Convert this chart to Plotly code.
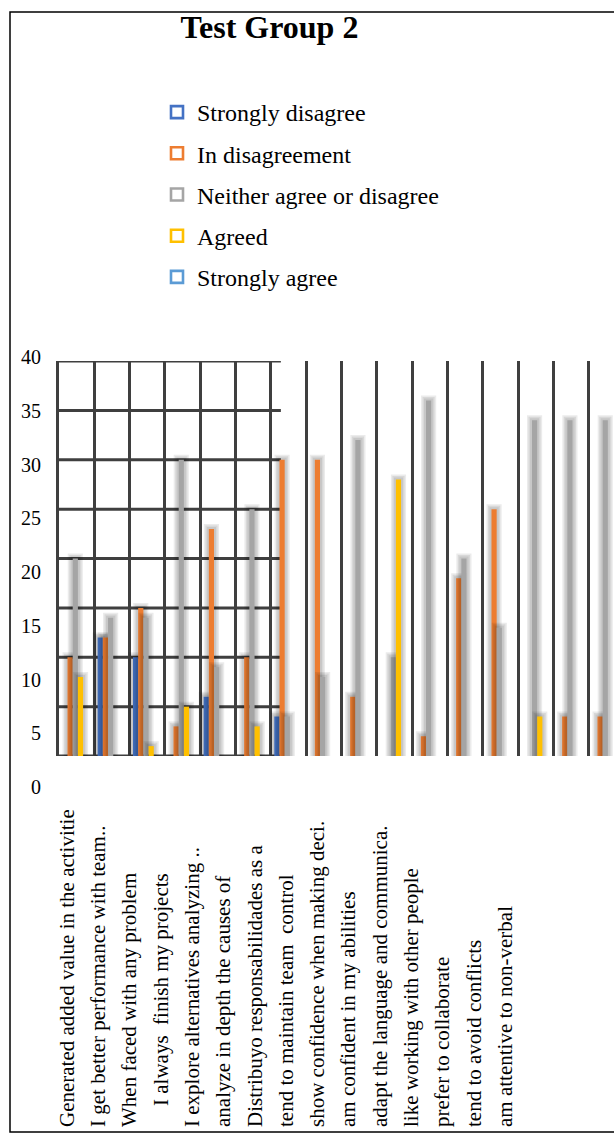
import plotly.graph_objects as go

# Survey statements (axis labels)
statements = [
    "Generated added value in the activitie",
    "I get better performance with team..",
    "When faced with any problem",
    "\u00a0\u00a0\u00a0\u00a0I always  finish my projects",
    "I explore alternatives analyzing ..",
    "analyze in depth the causes of",
    "Distribuyo responsabilidades as a",
    "tend to maintain team  control",
    "show confidence when making deci.",
    "am confident in my abilities",
    "adapt the language and communica.",
    "like working with other people",
    "prefer to collaborate",
    "tend to avoid conflicts",
    "am attentive to non-verbal",
]

# Response counts per item group (16 groups drawn)
group_index = list(range(16))
strongly_disagree = [0, 12, 10, 0, 6, 0, 4, 0, 0, 0, 0, 0, 0, 0, 0, 0]
in_disagreement = [10, 12, 15, 3, 23, 10, 30, 30, 6, 0, 2, 18, 25, 0, 4, 4]
neither = [20, 14, 14, 30, 9, 25, 4, 8, 32, 10, 36, 20, 13, 34, 34, 34]
agreed = [8, 0, 1, 5, 0, 3, 0, 0, 0, 28, 0, 0, 0, 4, 0, 0]
strongly_agree = [0, 0, 0, 0, 0, 0, 0, 0, 0, 0, 0, 0, 0, 0, 0, 0]

series_names = ["Strongly disagree", "In disagreement", "Neither agree or disagree",
                "Agreed", "Strongly agree"]
series_values = [strongly_disagree, in_disagreement, neither, agreed, strongly_agree]
series_colors = ["#4472C4", "#ED7D31", "#A5A5A5", "#FFC000", "#5B9BD5"]

y_ticks = list(range(0, 41, 5))

W, H = 614, 1137
FONT = "Liberation Serif"

# pixel geometry of the bar panel
PX_LEFT, PX_TOP, PX_BOTTOM = 59, 361, 756
CELL_PX = 35.33
UNIT_PX = (PX_BOTTOM - PX_TOP) / 40.0

BAR_W = 0.147
BAR_START = -0.406

fig = go.Figure()

# soft drop-shadow layers drawn under each bar
shadow_pads = [5.0, 3.5, 2.0]
for i, (name, vals, col) in enumerate(zip(series_names, series_values, series_colors)):
    off = BAR_START + BAR_W * i
    for pad in shadow_pads:
        dx = pad / CELL_PX
        dy = pad / UNIT_PX
        fig.add_trace(go.Bar(
            x=group_index,
            y=[v + dy if v else None for v in vals],
            offset=off - dx, width=BAR_W + 2 * dx,
            marker=dict(color="rgba(0,0,0,0.08)", line=dict(width=0)),
            showlegend=False, hoverinfo="skip",
        ))
    fig.add_trace(go.Bar(
        x=group_index, y=vals, name=name,
        offset=off, width=BAR_W,
        marker=dict(color=col, line=dict(width=0)),
        showlegend=False,
    ))

# legend entries with outlined squares
for i, (name, col) in enumerate(zip(series_names, series_colors)):
    fig.add_trace(go.Scatter(
        x=[None], y=[None], mode="markers", name=name,
        marker=dict(symbol="square-open", size=12, color=col, line=dict(width=2.6, color=col)),
        legendgroup=f"g{i}", showlegend=True,
    ))

# empty traces so the label axes get drawn
fig.add_trace(go.Scatter(x=[None], y=[None], xaxis="x3", yaxis="y2",
                         showlegend=False, hoverinfo="skip"))
fig.add_trace(go.Scatter(x=[None], y=[None], xaxis="x2", yaxis="y3",
                         showlegend=False, hoverinfo="skip"))

# horizontal grid segment across the left part of the panel
for v in y_ticks:
    fig.add_shape(type="line", xref="x", yref="y", x0=-0.5, x1=5.78, y0=v, y1=v,
                  line=dict(color="#3f3f3f", width=3), layer="below")

# outer frame
fig.add_shape(type="rect", xref="paper", yref="paper",
              x0=10 / W, x1=1.05, y0=1 - 1132 / H, y1=1 - 12 / H,
              line=dict(color="black", width=1.5), fillcolor="rgba(0,0,0,0)")

fig.update_layout(
    width=W, height=H,
    margin=dict(l=0, r=0, t=0, b=0, autoexpand=False),
    paper_bgcolor="white", plot_bgcolor="white",
    barmode="overlay",
    font=dict(family=FONT, color="black"),
    title=dict(text="<b>Test Group 2</b>", x=269.5 / W, xanchor="center",
               y=1 - 27 / H, yanchor="middle", yref="container",
               font=dict(family=FONT, size=32, color="black")),
    xaxis=dict(domain=[PX_LEFT / W, 1.0],
               range=[-0.5, -0.5 + (W - PX_LEFT) / CELL_PX],
               tickmode="linear", tick0=-0.5, dtick=1,
               showgrid=True, gridcolor="#3f3f3f", gridwidth=2.6, automargin=False,
               showticklabels=False, zeroline=False, showline=False, ticks=""),
    yaxis=dict(domain=[1 - PX_BOTTOM / H, 1 - PX_TOP / H], range=[0, 40],
               showgrid=False, zeroline=False, showticklabels=False, automargin=False,
               showline=True, linecolor="#3f3f3f", linewidth=3, ticks=""),
    # value labels
    yaxis2=dict(domain=[1 - 787 / H, 1 - 357 / H], range=[0, 40],
                anchor="free", position=41 / W, automargin=False,
                tickmode="array", tickvals=y_ticks, ticktext=[str(t) for t in y_ticks],
                tickfont=dict(family=FONT, size=20, color="black"),
                showgrid=False, zeroline=False, showline=False, ticks=""),
    xaxis3=dict(domain=[0, 0.05], anchor="y2", visible=False, automargin=False),
    # statement labels
    xaxis2=dict(domain=[51.4 / W, 520.6 / W], range=[-0.5, len(statements) - 0.5],
                anchor="free", position=1 - 1127 / H, side="top", automargin=False,
                tickmode="array", tickvals=list(range(len(statements))), ticktext=statements,
                tickangle=-90, tickfont=dict(family=FONT, size=21, color="black"),
                showgrid=False, zeroline=False, showline=False, ticks=""),
    yaxis3=dict(domain=[0, 0.005], anchor="x2", visible=False, automargin=False),
    legend=dict(x=157 / W, xanchor="left", y=1 - 90 / H, yanchor="top",
                font=dict(family=FONT, size=24, color="black"),
                traceorder="grouped", tracegroupgap=7,
                bgcolor="rgba(0,0,0,0)", borderwidth=0),
    showlegend=True,
)

fig.write_html("out.html")
